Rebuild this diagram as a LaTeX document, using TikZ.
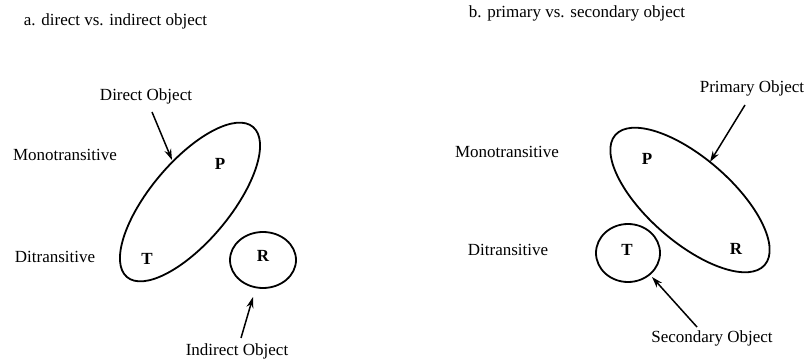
\documentclass[tikz,border=0pt]{standalone}
\usepackage{fontspec}
\setmainfont{Liberation Serif}
\usetikzlibrary{arrows.meta,shapes.geometric}
\begin{document}
\begin{tikzpicture}[x=1pt,y=-1pt,
  lbl/.style={font=\fontsize{17}{20}\selectfont, inner sep=0pt, anchor=mid},
  role/.style={font=\fontsize{17}{20}\selectfont\bfseries, inner sep=0pt, anchor=mid},
  set/.style={draw, line width=1.8pt, ellipse, inner sep=0pt},
  ptr/.style={line width=1.5pt, -{Stealth[length=11pt,width=7pt]}}]
\useasboundingbox (0,0) rectangle (811,363);
% panel a
\node[lbl] (ta) at (115.5,23) {a. direct vs. indirect object};
\node[lbl] (monoA) at (65,158) {Monotransitive};
\node[lbl] (diA) at (55,260) {Ditransitive};
\node[set, rotate=50, minimum width=196pt, minimum height=80pt] (ellA) at (190,202) {};
\node[set, minimum width=66pt, minimum height=56pt] (circR) at (263,260) {};
\node[role] (pA) at (220,167) {P};
\node[role] (tA) at (147,262) {T};
\node[role] (rA) at (263,259) {R};
\node[lbl] (doL) at (146,98) {Direct Object};
\node[lbl] (ioL) at (237,353) {Indirect Object};
\coordinate (doT) at (152,112);
\coordinate (doH) at (172,160);
\coordinate (ioT) at (241,338);
\coordinate (ioH) at (253,297);
\draw[ptr] (doT) -- (doH);
\draw[ptr] (ioT) -- (ioH);
% panel b
\node[lbl] (tb) at (577,15) {b. primary vs. secondary object};
\node[lbl] (monoB) at (507,155) {Monotransitive};
\node[lbl] (diB) at (508,253) {Ditransitive};
\node[set, rotate=-41, minimum width=198pt, minimum height=84pt] (ellB) at (690,200) {};
\node[set, minimum width=64pt, minimum height=58pt] (circT) at (628,253) {};
\node[role] (pB) at (647,162) {P};
\node[role] (rB) at (736,252) {R};
\node[role] (tB) at (627,253) {T};
\node[lbl] (poL) at (752,90) {Primary Object};
\node[lbl] (soL) at (712,340) {Secondary Object};
\coordinate (poT) at (745,105);
\coordinate (poH) at (710,162);
\coordinate (soT) at (697,327);
\coordinate (soH) at (652,277);
\draw[ptr] (poT) -- (poH);
\draw[ptr] (soT) -- (soH);
\end{tikzpicture}
\end{document}
